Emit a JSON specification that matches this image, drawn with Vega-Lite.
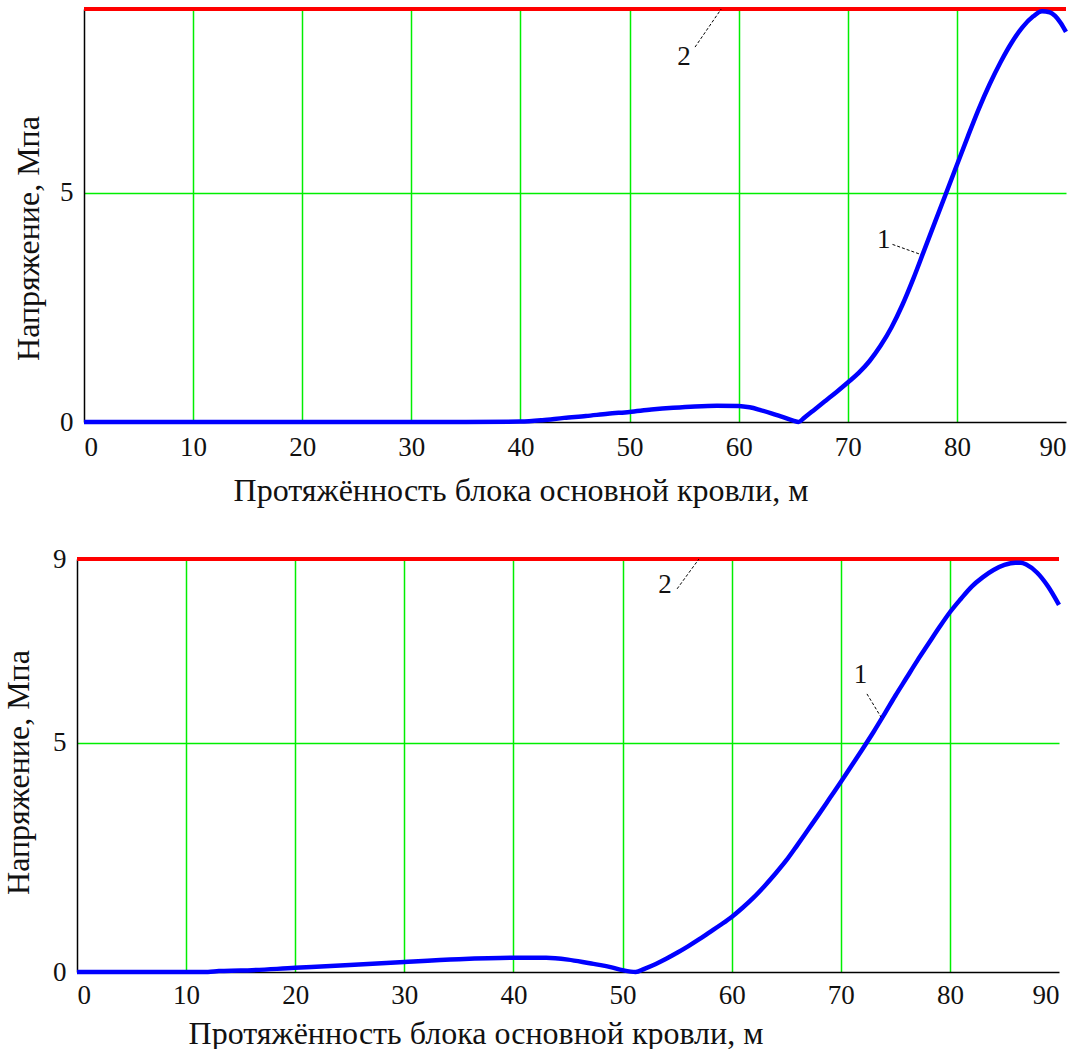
{
  "$schema": "https://vega.github.io/schema/vega-lite/v6.json",
  "background": "white",
  "padding": {"left": 2, "top": 1, "right": 0, "bottom": 0},
  "spacing": 39,
  "config": {
    "view": {"stroke": null},
    "font": "Times New Roman, Liberation Serif, serif",
    "axis": {
      "domainColor": "black",
      "domainWidth": 1.5,
      "ticks": false,
      "grid": true,
      "gridColor": "#00ee00",
      "gridWidth": 1.5,
      "labelFont": "Times New Roman, Liberation Serif, serif",
      "labelFontSize": 27,
      "labelColor": "#111111",
      "titleFont": "Times New Roman, Liberation Serif, serif",
      "titleFontSize": 32,
      "titleFontWeight": "normal",
      "titleColor": "#111111"
    }
  },
  "datasets": {
    "top": [
      {"x": 0, "y": 0}, {"x": 5, "y": 0}, {"x": 10, "y": 0}, {"x": 15, "y": 0}, {"x": 20, "y": 0},
      {"x": 25, "y": 0}, {"x": 30, "y": 0}, {"x": 35, "y": 0}, {"x": 40, "y": 0.01}, {"x": 42, "y": 0.04},
      {"x": 44, "y": 0.09}, {"x": 46, "y": 0.13}, {"x": 48, "y": 0.18}, {"x": 50, "y": 0.22}, {"x": 52, "y": 0.27},
      {"x": 54, "y": 0.31}, {"x": 56, "y": 0.34}, {"x": 58, "y": 0.355}, {"x": 60, "y": 0.35}, {"x": 61, "y": 0.32},
      {"x": 62, "y": 0.26}, {"x": 63, "y": 0.19}, {"x": 64, "y": 0.11}, {"x": 65, "y": 0.03}, {"x": 65.5, "y": 0},
      {"x": 66, "y": 0.09}, {"x": 67, "y": 0.28}, {"x": 68, "y": 0.47}, {"x": 69, "y": 0.66}, {"x": 70, "y": 0.86},
      {"x": 71, "y": 1.07}, {"x": 72, "y": 1.33}, {"x": 73, "y": 1.66}, {"x": 74, "y": 2.06}, {"x": 75, "y": 2.55},
      {"x": 76, "y": 3.12}, {"x": 77, "y": 3.74}, {"x": 78, "y": 4.36}, {"x": 79, "y": 4.98}, {"x": 80, "y": 5.6},
      {"x": 81, "y": 6.22}, {"x": 82, "y": 6.82}, {"x": 83, "y": 7.36}, {"x": 84, "y": 7.84}, {"x": 85, "y": 8.26},
      {"x": 86, "y": 8.6}, {"x": 87, "y": 8.84}, {"x": 87.8, "y": 8.95}, {"x": 88.5, "y": 8.93}, {"x": 89, "y": 8.85},
      {"x": 89.5, "y": 8.7}, {"x": 90, "y": 8.5}
    ],
    "bottom": [
      {"x": 0, "y": 0}, {"x": 5, "y": 0}, {"x": 10, "y": 0}, {"x": 12, "y": 0}, {"x": 13, "y": 0.02},
      {"x": 15, "y": 0.03}, {"x": 20, "y": 0.09}, {"x": 25, "y": 0.15}, {"x": 30, "y": 0.22}, {"x": 35, "y": 0.28},
      {"x": 40, "y": 0.31}, {"x": 43, "y": 0.31}, {"x": 45, "y": 0.27}, {"x": 47, "y": 0.19}, {"x": 48, "y": 0.15},
      {"x": 49, "y": 0.1}, {"x": 50, "y": 0.04}, {"x": 51.2, "y": 0}, {"x": 52, "y": 0.07}, {"x": 53, "y": 0.17},
      {"x": 54, "y": 0.29}, {"x": 55, "y": 0.42}, {"x": 56, "y": 0.56}, {"x": 57, "y": 0.71}, {"x": 58, "y": 0.87},
      {"x": 59, "y": 1.03}, {"x": 60, "y": 1.2}, {"x": 61, "y": 1.4}, {"x": 62, "y": 1.62}, {"x": 63, "y": 1.87},
      {"x": 64, "y": 2.14}, {"x": 65, "y": 2.43}, {"x": 66, "y": 2.76}, {"x": 67, "y": 3.1}, {"x": 68, "y": 3.44},
      {"x": 69, "y": 3.79}, {"x": 70, "y": 4.14}, {"x": 71, "y": 4.5}, {"x": 72, "y": 4.86}, {"x": 73, "y": 5.23},
      {"x": 74, "y": 5.62}, {"x": 75, "y": 6.02}, {"x": 76, "y": 6.4}, {"x": 77, "y": 6.78}, {"x": 78, "y": 7.14},
      {"x": 79, "y": 7.5}, {"x": 80, "y": 7.84}, {"x": 81, "y": 8.13}, {"x": 82, "y": 8.4}, {"x": 83, "y": 8.6},
      {"x": 84, "y": 8.76}, {"x": 85, "y": 8.87}, {"x": 86, "y": 8.92}, {"x": 86.5, "y": 8.92}, {"x": 87, "y": 8.88},
      {"x": 88, "y": 8.7}, {"x": 89, "y": 8.4}, {"x": 90, "y": 8.0}
    ],
    "limit": [{"x": 0, "y": 9}, {"x": 90, "y": 9}],
    "topLabels": [{"x": 55.0, "y": 7.96, "text": "2"}, {"x": 73.3, "y": 3.96, "text": "1"}],
    "topLeaders": [{"x": 56.0, "y": 8.17, "x2": 58.4, "y2": 9.0}, {"x": 74.1, "y": 3.87, "x2": 76.7, "y2": 3.65}],
    "bottomLabels": [{"x": 53.9, "y": 8.43, "text": "2"}, {"x": 71.8, "y": 6.48, "text": "1"}],
    "bottomLeaders": [{"x": 55.0, "y": 8.35, "x2": 57.0, "y2": 9.0}, {"x": 72.4, "y": 6.06, "x2": 73.7, "y2": 5.55}]
  },
  "vconcat": [
    {
      "width": 989,
      "height": 413,
      "encoding": {
        "x": {
          "field": "x", "type": "quantitative",
          "scale": {"domain": [0, 90], "range": [7, 989], "nice": false, "zero": false},
          "axis": {
            "values": [0, 10, 20, 30, 40, 50, 60, 70, 80, 90],
            "labelPadding": 12,
            "title": "Протяжённость блока основной кровли, м",
            "titlePadding": 15,
            "titleX": 443.5,
            "gridOpacity": {"condition": {"test": "datum.value === 0 || datum.value === 90", "value": 0}, "value": 1}
          }
        },
        "y": {
          "field": "y", "type": "quantitative",
          "scale": {"domain": [0, 9], "nice": false},
          "axis": {
            "values": [0, 5],
            "offset": -7,
            "labelPadding": 11,
            "title": "Напряжение, Мпа",
            "titlePadding": 14.5,
            "titleY": 229,
            "gridOpacity": {"condition": {"test": "datum.value === 0 || datum.value === 9", "value": 0}, "value": 1}
          }
        }
      },
      "layer": [
        {
          "mark": {"type": "rule", "color": "black", "strokeWidth": 1.5},
          "encoding": {"x": {"datum": 90}, "y": {"datum": 0}, "y2": {"datum": 9}}
        },
        {"data": {"name": "limit"}, "mark": {"type": "line", "color": "#ff0000", "strokeWidth": 4}},
        {"data": {"name": "top"}, "mark": {"type": "line", "color": "#0000ff", "strokeWidth": 4.5, "interpolate": "monotone"}},
        {
          "data": {"name": "topLeaders"},
          "mark": {"type": "rule", "color": "black", "strokeWidth": 1, "strokeDash": [3, 2]},
          "encoding": {"x2": {"field": "x2"}, "y2": {"field": "y2"}}
        },
        {
          "data": {"name": "topLabels"},
          "mark": {"type": "text", "font": "Times New Roman, Liberation Serif, serif", "fontSize": 27, "color": "#111111", "align": "center", "baseline": "middle"},
          "encoding": {"text": {"field": "text"}}
        }
      ]
    },
    {
      "width": 982,
      "height": 413,
      "encoding": {
        "x": {
          "field": "x", "type": "quantitative",
          "scale": {"domain": [0, 90], "nice": false, "zero": false},
          "axis": {
            "values": [0, 10, 20, 30, 40, 50, 60, 70, 80, 90],
            "labelPadding": 10,
            "title": "Протяжённость блока основной кровли, м",
            "titlePadding": 10,
            "titleX": 398.5,
            "gridOpacity": {"condition": {"test": "datum.value === 0 || datum.value === 90", "value": 0}, "value": 1}
          }
        },
        "y": {
          "field": "y", "type": "quantitative",
          "scale": {"domain": [0, 9], "nice": false},
          "axis": {
            "values": [0, 5, 9],
            "labelPadding": 11,
            "title": "Напряжение, Мпа",
            "titlePadding": 17.5,
            "titleY": 213,
            "gridOpacity": {"condition": {"test": "datum.value === 0 || datum.value === 9", "value": 0}, "value": 1}
          }
        }
      },
      "layer": [
        {
          "mark": {"type": "rule", "color": "black", "strokeWidth": 1.5},
          "encoding": {"x": {"datum": 90}, "y": {"datum": 0}, "y2": {"datum": 9}}
        },
        {"data": {"name": "limit"}, "mark": {"type": "line", "color": "#ff0000", "strokeWidth": 4}},
        {"data": {"name": "bottom"}, "mark": {"type": "line", "color": "#0000ff", "strokeWidth": 4.5, "interpolate": "monotone"}},
        {
          "data": {"name": "bottomLeaders"},
          "mark": {"type": "rule", "color": "black", "strokeWidth": 1, "strokeDash": [3, 2]},
          "encoding": {"x2": {"field": "x2"}, "y2": {"field": "y2"}}
        },
        {
          "data": {"name": "bottomLabels"},
          "mark": {"type": "text", "font": "Times New Roman, Liberation Serif, serif", "fontSize": 27, "color": "#111111", "align": "center", "baseline": "middle"},
          "encoding": {"text": {"field": "text"}}
        }
      ]
    }
  ]
}
